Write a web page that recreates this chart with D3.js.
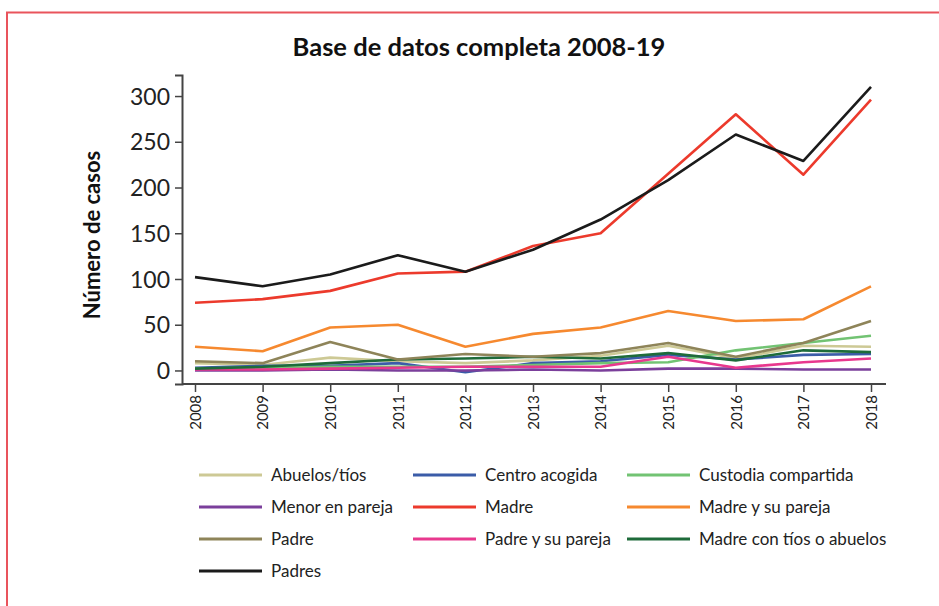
<!DOCTYPE html>
<html><head><meta charset="utf-8">
<script src="https://cdn.jsdelivr.net/npm/d3@7"></script>
<style>body{margin:0;background:#fff}svg{display:block}</style>
</head><body>
<svg id="c" width="939" height="606"></svg>
<script>
const years = [2008,2009,2010,2011,2012,2013,2014,2015,2016,2017,2018];
const yTicks = [0,50,100,150,200,250,300];
const seriesNames = ["Abuelos/tíos","Centro acogida","Custodia compartida","Menor en pareja","Madre","Madre y su pareja","Padre","Padre y su pareja","Madre con tíos o abuelos","Padres"];
const seriesColors = ["#cdc995","#3b5ca8","#72c373","#7b3f9b","#ec3a2c","#f6892f","#8e8459","#e8388e","#1e6b3a","#1b1b1b"];
const abuelos   = [8, 6, 14, 10, 8, 11, 16, 27, 13, 27, 26];
const centro    = [3, 5, 5, 8, -2, 8, 10, 17, 12, 17, 18];
const custodia  = [2, 3, 4, 4, 4, 6, 8, 9, 22, 30, 38];
const menor     = [0, 0, 1, 0, 0, 1, 0, 2, 2, 1, 1];
const madre     = [74, 78, 87, 106, 108, 136, 150, 215, 280, 214, 296];
const madrePar  = [26, 21, 47, 50, 26, 40, 47, 65, 54, 56, 92];
const padre     = [10, 8, 31, 12, 18, 15, 19, 30, 15, 30, 54];
const padrePar  = [1, 1, 2, 3, 4, 4, 4, 15, 3, 9, 13];
const madreTios = [2, 4, 8, 12, 13, 15, 13, 19, 11, 22, 20];
const padres    = [102, 92, 105, 126, 108, 132, 165, 208, 258, 229, 310];
const allValues = [abuelos, centro, custodia, menor, madre, madrePar, padre, padrePar, madreTios, padres];
const drawOrder = [0,1,2,3,7,8,6,5,4,9];

const svg = d3.select("#c");
// frame
svg.append("path").attr("d","M7,606 V12.5 H939").attr("fill","none").attr("stroke","#e9545c").attr("stroke-width",2);

const x = d3.scalePoint().domain(years).range([195, 871]);
const y = d3.scaleLinear().domain([-14.8, 323]).range([384, 75]);

svg.append("text").attr("x",479).attr("y",56).attr("text-anchor","middle")
  .attr("font-family","Lato").attr("font-weight","bold").attr("font-size",25.5).attr("fill","#111")
  .text("Base de datos completa 2008-19");

const yAxis = svg.append("g").attr("transform","translate(182,0)")
  .call(d3.axisLeft(y).tickValues(yTicks).tickSize(7).tickPadding(5));
yAxis.select(".domain").attr("stroke","#444").attr("stroke-width",2);
yAxis.selectAll(".tick line").attr("stroke","#444").attr("stroke-width",1.5);
yAxis.selectAll("text").attr("font-family","Lato").attr("font-size",23).attr("fill","#222").attr("dy","0.35em");

const xAxis = svg.append("g").attr("transform","translate(0,384)")
  .call(d3.axisBottom(x).tickSize(8).tickSizeOuter(0));
xAxis.select(".domain").attr("d","M182,0H886").attr("stroke","#444").attr("stroke-width",2);
xAxis.selectAll(".tick line").attr("stroke","#444").attr("stroke-width",1.5);
xAxis.selectAll("text").attr("font-family","Lato").attr("font-size",15).attr("fill","#222")
  .attr("transform","rotate(-90)").attr("text-anchor","end").attr("x",-11).attr("y",0).attr("dy","0.35em");

svg.append("text").attr("transform","translate(100,235) rotate(-90)").attr("text-anchor","middle")
  .attr("font-family","Lato").attr("font-weight","bold").attr("font-size",22).attr("fill","#111")
  .text("Número de casos");

const line = d3.line().x((d,i)=>x(years[i])).y(d=>y(d));
drawOrder.forEach(k=>{
  svg.append("path").datum(allValues[k]).attr("d",line).attr("fill","none")
    .attr("stroke",seriesColors[k]).attr("stroke-width",2.6).attr("stroke-linejoin","round");
});

// legend
const colX = [199, 413, 627];
const rowY = [475, 507, 539, 571];
seriesNames.forEach((n,i)=>{
  const cx = colX[i%3], cy = rowY[Math.floor(i/3)];
  svg.append("line").attr("x1",cx).attr("x2",cx+63).attr("y1",cy).attr("y2",cy)
    .attr("stroke",seriesColors[i]).attr("stroke-width",3);
  svg.append("text").attr("x",cx+72).attr("y",cy).attr("dy","0.35em")
    .attr("font-family","Lato").attr("font-size",17).attr("fill","#222").text(n);
});
</script>
</body></html>
